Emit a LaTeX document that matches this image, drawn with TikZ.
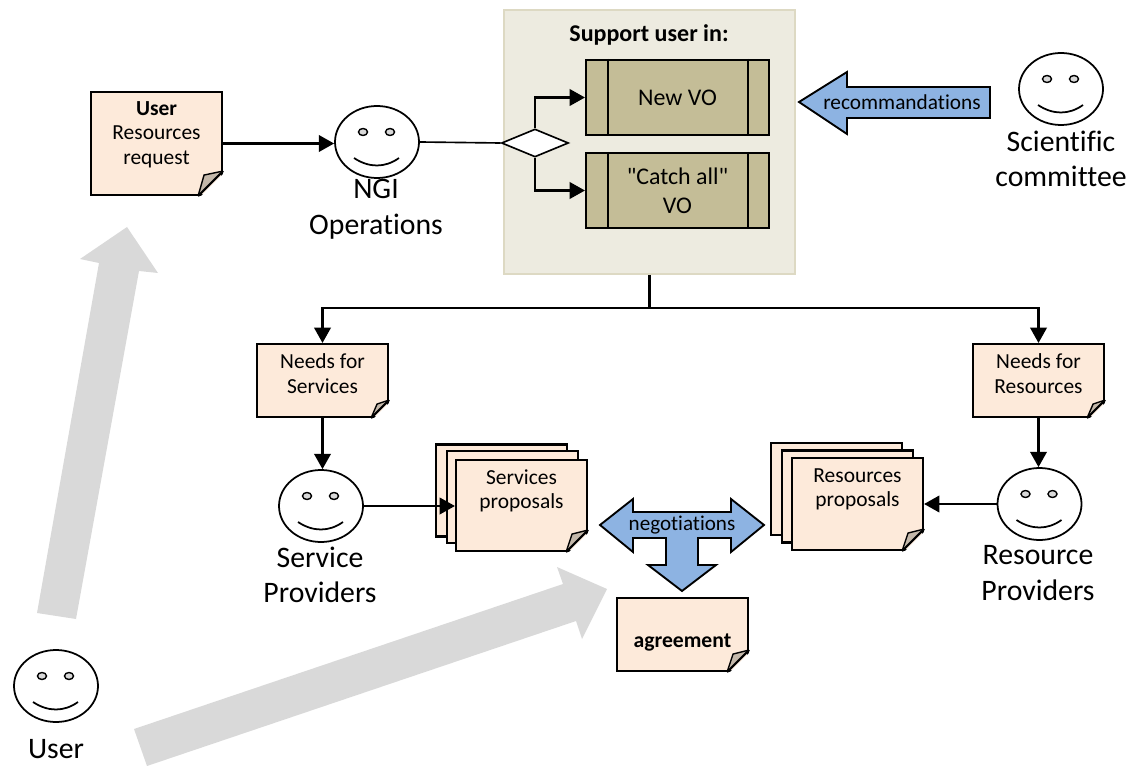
\documentclass[tikz,border=0pt]{standalone}
\usepackage{fontspec}
\setmainfont{Carlito}[Ligatures=NoCommon]
\newfontfamily\plainquotes{Carlito}
\usetikzlibrary{arrows.meta,shapes.geometric}

\definecolor{notefill}{RGB}{253,234,218}
\definecolor{foldfill}{RGB}{196,184,170}
\definecolor{panelfill}{RGB}{237,235,224}
\definecolor{panelline}{RGB}{221,217,195}
\definecolor{procfill}{RGB}{196,189,151}
\definecolor{bluefill}{RGB}{141,179,226}
\definecolor{greyfill}{RGB}{217,217,217}

\tikzset{
  face/.style={draw=black,line width=1.5pt,fill=white,ellipse,inner sep=0pt,minimum width=2.52cm,minimum height=2.16cm},
  facelabel/.style={align=center,font=\fontsize{25.4}{30.5}\selectfont},
  note/.style={draw=black,line width=1.8pt,fill=notefill,align=center,inner sep=0pt,font=\fontsize{18.3}{21}\selectfont},
  process/.style={draw=black,line width=1.8pt,fill=procfill,align=center,inner sep=0pt,minimum width=5.49cm,minimum height=2.25cm,font=\fontsize{20.4}{25}\selectfont},
  flow/.style={line width=2pt,-{Triangle[length=13pt,width=14pt]}},
  blockarrow/.style={draw=black,line width=1.6pt,fill=bluefill},
  bigarrow/.style={fill=greyfill}
}

% corner of a note
\newcommand{\notecorner}[2]{
  \fill[white] ([shift={(-#2,3)}]#1.south east) -- ([shift={(3,3)}]#1.south east) -- ([shift={(3,-#2)}]#1.south east) -- cycle;
  \draw[line width=1.2pt,fill=foldfill] ([shift={(0,-#2)}]#1.south east) -- ([shift={(-#2+6,-#2+4)}]#1.south east) -- ([shift={(-#2,0)}]#1.south east);
  \draw[line width=1.8pt] ([shift={(0,-#2)}]#1.south east) -- ([shift={(-#2,0)}]#1.south east);
}
% eyes and smile of a face
\newcommand{\facedetail}[1]{
  \foreach \x in {-14,13} {
    \draw[line width=1.2pt,fill=greyfill] ([shift={(\x,-10)}]#1.center) circle [x radius=4.5,y radius=3.5];
  }
  \draw[line width=1.5pt] ([shift={(-23,16)}]#1.center) .. controls ([shift={(-8,26)}]#1.center) and ([shift={(8,26)}]#1.center) .. ([shift={(22,16)}]#1.center);
}

\begin{document}
\begin{tikzpicture}[x=0.03cm,y=-0.03cm]
\useasboundingbox (0,0) rectangle (1126,766);

% big grey arrows
\fill[bigarrow] (37,613) -- (99,263) -- (80,259) -- (127,227) -- (158,273) -- (139,271) -- (76,619) -- cycle;
\fill[bigarrow] (134,729) -- (563,584) -- (557,567) -- (607,589) -- (582,639) -- (576,621) -- (147,766) -- cycle;

% panel
\node[draw=panelline,line width=1.4pt,fill=panelfill,minimum width=8.73cm,minimum height=7.92cm] (support) at (649.5,142) {};
\node[font=\bfseries\fontsize{20.5}{24}\selectfont] (supporttitle) at (649,35) {Support user in:};

\node[process] (newvo) at (677.5,97.5) {New VO};
\node[process] (catchall) at (677.5,190.5) {{\plainquotes"Catch all"}\\VO};
\foreach \n in {newvo,catchall} {
  \draw[line width=1.8pt] ([xshift=23*0.03cm]\n.north west) -- ([xshift=23*0.03cm]\n.south west);
  \draw[line width=1.8pt] ([xshift=-22*0.03cm]\n.north east) -- ([xshift=-22*0.03cm]\n.south east);
}
\node[draw=black,line width=1.4pt,fill=white,diamond,aspect=2.4,inner sep=0pt,minimum width=2.01cm,minimum height=0.84cm] (gate) at (535,143) {};

% faces
\foreach \n/\x/\y in {ngi/377/142,science/1061/89,serviceprov/321/506,resourceprov/1039.5/504,user/56/686} {
  \node[face] (\n) at (\x,\y) {};
  \facedetail{\n}
}
\node[facelabel] (ngilabel) at (376,209) {NGI\\Operations};
\node[facelabel] (sciencelabel) at (1061,159) {Scientific\\committee};
\node[facelabel] (servicelabel) at (320,575) {Service\\Providers};
\node[facelabel] (resourcelabel) at (1038,573) {Resource\\Providers};
\node[facelabel,text depth=0pt] (userlabel) at (56,749) {User};

% notes
\node[note,minimum width=3.93cm,minimum height=3.09cm] (request) at (156.5,143.5) {\textbf{User}\\Resources\\request\\[-0.11cm]};
\notecorner{request}{25}
\node[note,minimum width=3.93cm,minimum height=2.19cm] (needservices) at (322.5,380.5) {Needs for\\Services\\[-0.32cm]};
\notecorner{needservices}{18}
\node[note,minimum width=3.93cm,minimum height=2.19cm] (needresources) at (1038.5,380.5) {Needs for\\Resources\\[-0.32cm]};
\notecorner{needresources}{18}
\node[note,minimum width=3.93cm,minimum height=2.19cm,text height=26pt,font=\bfseries\fontsize{18.5}{21}\selectfont] (agreement) at (682.5,634.5) {agreement};
\notecorner{agreement}{22}

% proposals
\foreach \n/\x/\y in {servback/501.5/490.5,servmid/512.5/497,resback/836.5/489,resmid/847.5/496.5} {
  \node[note,minimum width=3.93cm,minimum height=2.76cm] (\n) at (\x,\y) {};
}
\node[note,minimum width=3.93cm,minimum height=2.73cm] (servprop) at (521.5,505.5) {Services\\proposals\\[0.25cm]};
\notecorner{servprop}{22}
\node[note,minimum width=3.93cm,minimum height=2.76cm] (resprop) at (857.5,504) {Resources\\proposals\\[0.25cm]};
\notecorner{resprop}{22}

% block arrows
\draw[blockarrow] (799,102) -- (847,72) -- (847,87) -- (990,87) -- (990,118) -- (847,118) -- (847,134) -- cycle;
\node[font=\fontsize{18.2}{22}\selectfont] (recomm) at (902,102) {recommandations};
\draw[blockarrow] (600,525) -- (633,499) -- (633,512) -- (731,512) -- (731,499) -- (764,525) -- (731,552) -- (731,538) -- (698,538) -- (698,565) -- (716,565) -- (682,591) -- (648,565) -- (666,565) -- (666,538) -- (633,538) -- (633,552) -- cycle;
\node[font=\fontsize{18}{22}\selectfont] (negotiate) at (682,525) {negotiations};

% connectors
\coordinate (split) at (support.south |- 0,308);
\draw[line width=2.4pt] (support.south) -- (split);
\draw[flow] (request.east) -- (request.east -| ngi.west);
\draw[line width=1.4pt] (ngi.east) -- (gate.west);
\draw[flow] (gate.north) |- (newvo.west);
\draw[flow] (gate.south) |- (catchall.west);
\draw[flow] (split) -| (needservices.north);
\draw[flow] (split) -| (needresources.north);
\draw[flow] (needservices.south) -- (needservices.south |- serviceprov.north);
\draw[flow] (needresources.south) -- (needresources.south |- resourceprov.north);
\draw[flow] (serviceprov.east) -- (serviceprov.east -| servprop.west);
\draw[flow] (resourceprov.west) -- (resourceprov.west -| resprop.east);
\end{tikzpicture}
\end{document}
